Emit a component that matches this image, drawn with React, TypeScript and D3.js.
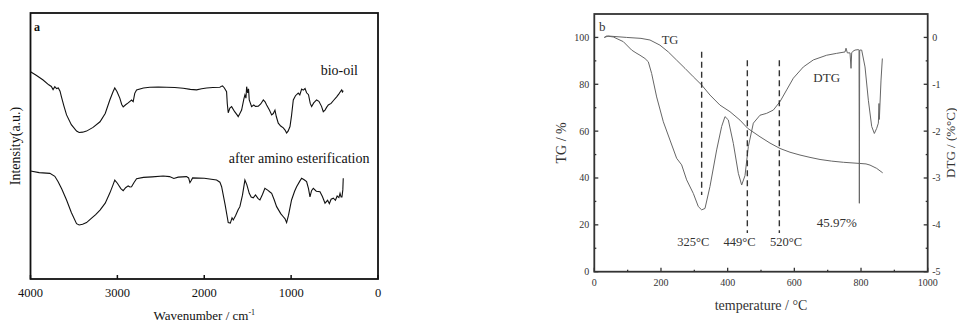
import * as d3 from "d3";

// ---- panel a: FTIR spectra (intensity in arbitrary units) ----
const bioOilWavenumber = [4000, 3930, 3855, 3790, 3760, 3740, 3720, 3700, 3680, 3660, 3643, 3615, 3585, 3530, 3470, 3440, 3400, 3355, 3280, 3200, 3140, 3087, 3050, 3030, 3005, 2972, 2950, 2933, 2905, 2876, 2855, 2837, 2818, 2800, 2779, 2700, 2626, 2530, 2434, 2340, 2242, 2160, 2088, 2030, 1973, 1900, 1820, 1800, 1790, 1770, 1743, 1735, 1724, 1705, 1685, 1650, 1620, 1609, 1590, 1570, 1545, 1532, 1520, 1512, 1500, 1490, 1482, 1455, 1430, 1410, 1378, 1350, 1320, 1300, 1282, 1250, 1224, 1205, 1186, 1170, 1148, 1120, 1090, 1070, 1052, 1035, 1013, 995, 975, 950, 918, 900, 879, 860, 840, 822, 800, 780, 764, 740, 707, 680, 650, 630, 610, 590, 572, 540, 510, 476, 450, 430, 418, 410, 400];
const bioOilIntensity = [77.9, 76.5, 74.8, 73.0, 72.4, 71.2, 72.3, 71.6, 71.8, 70.6, 68.4, 65.0, 61.7, 58.0, 55.6, 55.1, 55.2, 55.6, 57.0, 59.1, 62.2, 67.3, 70.4, 71.8, 70.5, 68.0, 65.6, 64.7, 65.5, 66.2, 66.8, 67.3, 66.7, 69.8, 71.1, 71.8, 72.1, 72.2, 72.1, 72.0, 71.7, 71.3, 71.1, 71.5, 71.8, 72.0, 72.1, 72.5, 72.6, 71.9, 70.4, 66.0, 62.5, 64.3, 64.8, 62.9, 61.6, 61.0, 62.2, 63.5, 67.5, 69.2, 68.0, 72.3, 70.0, 71.5, 67.3, 64.8, 65.4, 64.9, 65.0, 65.8, 67.3, 66.6, 65.4, 63.5, 61.7, 62.2, 63.5, 61.0, 58.6, 57.5, 56.8, 56.0, 54.9, 55.6, 57.3, 61.5, 67.3, 68.9, 69.9, 69.2, 71.4, 71.0, 71.6, 70.0, 69.3, 66.0, 64.8, 66.2, 67.3, 66.8, 64.9, 62.9, 63.5, 64.6, 65.4, 66.0, 67.2, 68.5, 69.6, 70.6, 71.1, 70.3, 70.8];

const aminoWavenumber = [4000, 3900, 3777, 3720, 3682, 3640, 3585, 3530, 3470, 3440, 3400, 3355, 3300, 3250, 3200, 3140, 3087, 3050, 3030, 3000, 2960, 2933, 2905, 2876, 2855, 2837, 2810, 2779, 2700, 2600, 2473, 2400, 2350, 2300, 2204, 2180, 2165, 2150, 2134, 2000, 1858, 1820, 1800, 1760, 1724, 1700, 1680, 1666, 1640, 1610, 1590, 1560, 1532, 1510, 1482, 1460, 1436, 1410, 1380, 1359, 1330, 1302, 1270, 1240, 1224, 1195, 1167, 1120, 1090, 1070, 1052, 1030, 995, 960, 937, 900, 879, 850, 822, 800, 783, 765, 745, 710, 668, 640, 610, 580, 560, 540, 514, 490, 470, 450, 437, 425, 415, 405, 400];
const aminoIntensity = [40.6, 40.0, 39.7, 38.6, 36.6, 33.8, 29.7, 25.0, 20.8, 20.3, 20.6, 21.2, 22.8, 24.2, 25.9, 28.5, 32.3, 35.4, 37.2, 36.0, 34.0, 33.2, 34.3, 35.0, 34.6, 34.7, 36.2, 37.7, 38.2, 38.4, 38.7, 38.5, 37.8, 38.3, 38.5, 38.0, 36.2, 37.0, 38.0, 37.9, 37.2, 36.4, 34.7, 28.0, 21.2, 21.0, 23.0, 22.2, 23.8, 26.0, 27.2, 31.5, 37.2, 35.5, 32.2, 30.8, 30.5, 31.6, 30.2, 29.7, 31.8, 34.1, 33.4, 32.6, 32.2, 29.8, 27.2, 24.6, 23.4, 22.6, 21.2, 24.0, 29.7, 33.0, 34.7, 36.8, 37.9, 37.3, 36.6, 34.0, 30.9, 33.2, 34.1, 33.0, 32.8, 31.0, 28.5, 29.6, 28.3, 30.0, 30.4, 29.6, 31.2, 30.6, 32.2, 30.8, 30.8, 33.5, 37.9];

const wavenumberTicks = [4000, 3000, 2000, 1000, 0];

// ---- panel b: TG / DTG ----
const tgTemperature = [30, 42, 97, 140, 167, 197, 222, 247, 272, 297, 322, 347, 377, 407, 437, 460, 497, 527, 557, 587, 617, 647, 677, 712, 747, 797, 815, 827, 847, 865];
const tgValue = [100, 100.6, 100, 99.6, 98.9, 96.7, 93.8, 90.3, 86.8, 83.2, 79.7, 75.4, 71.1, 68.3, 64.7, 61.2, 57.6, 54.9, 52.6, 51.0, 49.8, 48.8, 47.9, 47.2, 46.7, 46.2, 46.0, 45.5, 44.1, 42.2];

const dtgTemperature = [30, 37, 57, 87, 112, 125, 137, 152, 162, 172, 187, 207, 227, 247, 262, 277, 297, 312, 322, 332, 347, 367, 382, 392, 402, 417, 432, 442, 452, 462, 477, 497, 517, 537, 557, 577, 597, 627, 657, 697, 727, 752, 755, 759, 767, 770, 772, 775, 782, 792, 794, 795, 796, 797, 802, 812, 822, 832, 840, 847, 852, 854, 855, 857, 860, 864];
const dtgValue = [0, 0.03, 0.01, -0.09, -0.27, -0.33, -0.38, -0.45, -0.52, -0.77, -1.27, -1.8, -2.19, -2.58, -2.72, -3.04, -3.33, -3.61, -3.68, -3.65, -3.18, -2.4, -1.9, -1.69, -1.76, -2.26, -2.9, -3.15, -2.95, -2.33, -1.83, -1.66, -1.62, -1.55, -1.37, -1.12, -0.87, -0.63, -0.48, -0.38, -0.34, -0.31, -0.23, -0.33, -0.33, -0.66, -0.33, -0.3, -0.27, -0.26, -0.27, -3.54, -0.27, -0.27, -0.27, -0.63, -1.34, -1.9, -2.05, -1.94, -1.83, -1.41, -1.75, -1.4, -0.91, -0.45];

const peakTemperature = [322, 459, 555];
const peakTop = [93.9, 90.3, 90.3];
const peakBottom = [32.7, 16.5, 16.5];
const peakLabels = ["325°C", "449°C", "520°C"];
const peakLabelTemperature = [297, 436, 575];
const residueLabel = "45.97%";

const tempTicks = [0, 200, 400, 600, 800, 1000];
const tempMinor = [100, 300, 500, 700, 900];
const tgTicks = [0, 20, 40, 60, 80, 100];
const tgMinor = [10, 30, 50, 70, 90];
const dtgTicks = [0, -1, -2, -3, -4, -5];
const dtgMinor = [-0.5, -1.5, -2.5, -3.5, -4.5];

const FONT = "'Liberation Serif', 'Times New Roman', serif";

function PanelA() {
  const x0 = 30.5, x1 = 378, y0 = 13, y1 = 279;
  const x = d3.scaleLinear().domain([4000, 0]).range([x0, x1]);
  const y = d3.scaleLinear().domain([0, 100]).range([y1, y0]);
  const line = d3.line<[number, number]>().x((d) => x(d[0])).y((d) => y(d[1]));
  const bio = bioOilWavenumber.map((w, i) => [w, bioOilIntensity[i]] as [number, number]);
  const amino = aminoWavenumber.map((w, i) => [w, aminoIntensity[i]] as [number, number]);
  return (
    <g fontFamily={FONT} fill="#111">
      <path d={line(bio) || ""} fill="none" stroke="#111" strokeWidth={1.1} />
      <path d={line(amino) || ""} fill="none" stroke="#111" strokeWidth={1.1} />
      <rect x={x0} y={y0} width={x1 - x0} height={y1 - y0} fill="none" stroke="#111" strokeWidth={1.8} />
      {wavenumberTicks.map((t) => (
        <g key={t}>
          <line x1={x(t)} x2={x(t)} y1={y1} y2={y1 - 4} stroke="#111" strokeWidth={1.5} />
          <text x={x(t)} y={y1 + 18} textAnchor="middle" fontSize={12.5}>{t}</text>
        </g>
      ))}
      <text x={(x0 + x1) / 2} y={320} textAnchor="middle" fontSize={13}>
        Wavenumber / cm<tspan dy={-5} fontSize={8}>-1</tspan>
      </text>
      <text transform={`translate(20,${(y0 + y1) / 2}) rotate(-90)`} textAnchor="middle" fontSize={14}>
        Intensity(a.u.)
      </text>
      <text x={34} y={31} fontSize={12} fontWeight="bold">a</text>
      <text x={358} y={75} textAnchor="end" fontSize={14}>bio-oil</text>
      <text x={369.5} y={163} textAnchor="end" fontSize={14}>after amino esterification</text>
    </g>
  );
}

function PanelB() {
  const x0 = 594.3, x1 = 927.7, y0 = 14, y1 = 271.7;
  const x = d3.scaleLinear().domain([0, 1000]).range([x0, x1]);
  const y = d3.scaleLinear().domain([0, 110]).range([y1, y0]);
  const yr = d3.scaleLinear().domain([-5, 0.5]).range([y1, y0]);
  const tgLine = d3.line<number>().x((t) => x(t)).y((_, i) => y(tgValue[i]));
  const dtgLine = d3.line<number>().x((t) => x(t)).y((_, i) => yr(dtgValue[i]));
  const ink = "#333";
  return (
    <g fontFamily={FONT} fill="#333">
      <path d={tgLine(tgTemperature) || ""} fill="none" stroke="#666" strokeWidth={1} />
      <path d={dtgLine(dtgTemperature) || ""} fill="none" stroke="#666" strokeWidth={1} />
      {peakTemperature.map((t, i) => (
        <line key={t} x1={x(t)} x2={x(t)} y1={y(peakTop[i])} y2={y(peakBottom[i])} stroke="#333" strokeWidth={1.4} strokeDasharray="6,4" />
      ))}
      <rect x={x0} y={y0} width={x1 - x0} height={y1 - y0} fill="none" stroke={ink} strokeWidth={1.8} />
      {tempTicks.map((t) => (
        <g key={t}>
          <line x1={x(t)} x2={x(t)} y1={y1} y2={y1 - 4} stroke={ink} strokeWidth={1.3} />
          <text x={x(t)} y={y1 + 14.5} textAnchor="middle" fontSize={10}>{t}</text>
        </g>
      ))}
      {tempMinor.map((t) => (
        <line key={t} x1={x(t)} x2={x(t)} y1={y1} y2={y1 - 2} stroke={ink} strokeWidth={1.3} />
      ))}
      {tgTicks.map((t) => (
        <g key={t}>
          <line x1={x0} x2={x0 + 4} y1={y(t)} y2={y(t)} stroke={ink} strokeWidth={1.3} />
          <text x={x0 - 5} y={y(t) + 3.5} textAnchor="end" fontSize={10}>{t}</text>
        </g>
      ))}
      {tgMinor.map((t) => (
        <line key={t} x1={x0} x2={x0 + 2} y1={y(t)} y2={y(t)} stroke={ink} strokeWidth={1.3} />
      ))}
      {dtgTicks.map((t) => (
        <g key={t}>
          <line x1={x1} x2={x1 - 4} y1={yr(t)} y2={yr(t)} stroke={ink} strokeWidth={1.3} />
          <text x={x1 + 4.5} y={yr(t) + 3.5} textAnchor="start" fontSize={10}>{t}</text>
        </g>
      ))}
      {dtgMinor.map((t) => (
        <line key={t} x1={x1} x2={x1 - 2} y1={yr(t)} y2={yr(t)} stroke={ink} strokeWidth={1.3} />
      ))}
      <text x={(x0 + x1) / 2} y={310} textAnchor="middle" fontSize={14}>temperature / °C</text>
      <text transform={`translate(566,${(y0 + y1) / 2}) rotate(-90)`} textAnchor="middle" fontSize={14}>TG / %</text>
      <text transform={`translate(954.5,${(y0 + y1) / 2}) rotate(-90)`} textAnchor="middle" fontSize={13}>DTG / (%°C)</text>
      <text x={599} y={31} fontSize={13}>b</text>
      <text x={x(227)} y={y(97)} textAnchor="middle" fontSize={12.5}>TG</text>
      <text x={x(697)} y={y(81)} textAnchor="middle" fontSize={13}>DTG</text>
      {peakLabels.map((l, i) => (
        <text key={l} x={x(peakLabelTemperature[i])} y={y(10.9)} textAnchor="middle" fontSize={12.5}>{l}</text>
      ))}
      <text x={x(727)} y={y(19.2)} textAnchor="middle" fontSize={13}>{residueLabel}</text>
    </g>
  );
}

export default function App() {
  return (
    <svg width={957} height={323} style={{ position: "absolute", left: 0, top: 0, background: "#fff" }}>
      <PanelA />
      <PanelB />
    </svg>
  );
}
